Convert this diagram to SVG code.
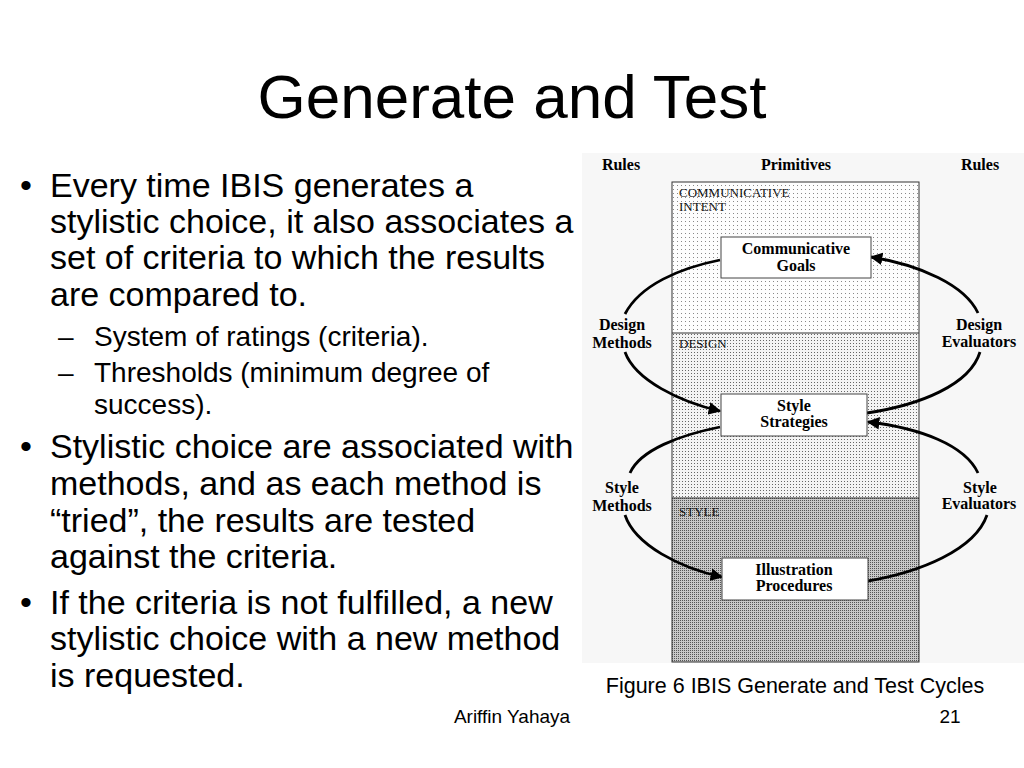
<svg xmlns="http://www.w3.org/2000/svg" width="1024" height="768" viewBox="0 0 1024 768">
<defs>
<style>
.ttl{font-family:"Liberation Sans",Arial,sans-serif;font-size:62px;fill:#000}
.b1{font-family:"Liberation Sans",Arial,sans-serif;font-size:34px;fill:#000}
.b2{font-family:"Liberation Sans",Arial,sans-serif;font-size:28px;fill:#000}
.ft{font-family:"Liberation Sans",Arial,sans-serif;font-size:19px;fill:#000}
.cap{font-family:"Liberation Sans",Arial,sans-serif;font-size:21.5px;fill:#000}
.lb{font-family:"Liberation Serif","Times New Roman",serif;font-size:16px;font-weight:bold;fill:#000;text-anchor:middle}
.sec{font-family:"Liberation Serif","Times New Roman",serif;font-size:13px;fill:#111}
.box{fill:#fff;stroke:#444;stroke-width:1}
.arc{fill:none;stroke:#000;stroke-width:2.8}
</style>
<pattern id="p1" width="4" height="4" patternUnits="userSpaceOnUse">
<rect width="4" height="4" fill="#fdfdfd"/>
<rect x="1" y="1" width="1" height="1" fill="#888"/>
</pattern>
<pattern id="p2" width="3" height="3" patternUnits="userSpaceOnUse">
<rect width="3" height="3" fill="#f4f4f4"/>
<rect x="1" y="1" width="1" height="1" fill="#666"/>
</pattern>
<pattern id="p3" width="2" height="2" patternUnits="userSpaceOnUse">
<rect width="2" height="2" fill="#c8c8c8"/>
<rect x="0" y="0" width="1" height="1" fill="#555"/>
</pattern>
<marker id="ah" viewBox="0 0 10 10" refX="9" refY="5" markerWidth="4.5" markerHeight="4.5" orient="auto" markerUnits="strokeWidth">
<path d="M0,0 L10,5 L0,10 z" fill="#000"/>
</marker>
</defs>
<rect width="1024" height="768" fill="#fff"/>
<text class="ttl" x="512" y="118" text-anchor="middle">Generate and Test</text>
<g id="bullets">
<text class="b1" x="20" y="197">•</text>
<text class="b1" x="50" y="197">Every time IBIS generates a</text>
<text class="b1" x="50" y="233">stylistic choice, it also associates a</text>
<text class="b1" x="50" y="269">set of criteria to which the results</text>
<text class="b1" x="50" y="306">are compared to.</text>
<text class="b2" x="58" y="346">–</text>
<text class="b2" x="94" y="346">System of ratings (criteria).</text>
<text class="b2" x="58" y="382">–</text>
<text class="b2" x="94" y="382">Thresholds (minimum degree of</text>
<text class="b2" x="94" y="414">success).</text>
<text class="b1" x="20" y="458">•</text>
<text class="b1" x="50" y="458">Stylistic choice are associated with</text>
<text class="b1" x="50" y="495">methods, and as each method is</text>
<text class="b1" x="50" y="532">“tried”, the results are tested</text>
<text class="b1" x="50" y="568">against the criteria.</text>
<text class="b1" x="20" y="614">•</text>
<text class="b1" x="50" y="614">If the criteria is not fulfilled, a new</text>
<text class="b1" x="50" y="650">stylistic choice with a new method</text>
<text class="b1" x="50" y="687">is requested.</text>
</g>
<rect x="582" y="153" width="442" height="510" fill="#f7f7f7"/>
<g id="column">
<rect x="672" y="182" width="247" height="151" fill="url(#p1)"/>
<rect x="672" y="333" width="247" height="165" fill="url(#p2)"/>
<rect x="672" y="498" width="247" height="164" fill="url(#p3)"/>
<rect x="672" y="182" width="247" height="480" fill="none" stroke="#333" stroke-width="1"/>
<line x1="672" y1="333" x2="919" y2="333" stroke="#333" stroke-width="1"/>
<line x1="672" y1="498" x2="919" y2="498" stroke="#333" stroke-width="1"/>
<text class="sec" x="679" y="197">COMMUNICATIVE</text>
<text class="sec" x="679" y="211">INTENT</text>
<text class="sec" x="679" y="348">DESIGN</text>
<text class="sec" x="679" y="516">STYLE</text>
</g>
<g id="headers">
<text class="lb" x="621" y="170">Rules</text>
<text class="lb" x="796" y="170">Primitives</text>
<text class="lb" x="980" y="170">Rules</text>
</g>
<g id="connectors">
<path class="arc" d="M625,314 C640,285 680,268 720,260"/>
<path class="arc" d="M978,313 C965,285 920,265 871,257" marker-end="url(#ah)"/>
<path class="arc" d="M625,352 C635,380 680,402 720,411" marker-end="url(#ah)"/>
<path class="arc" d="M980,352 C970,385 920,405 867,413"/>
<path class="arc" d="M630,473 C640,450 680,435 720,427"/>
<path class="arc" d="M978,473 C965,445 920,428 868,422" marker-end="url(#ah)"/>
<path class="arc" d="M625,515 C635,545 680,568 722,577" marker-end="url(#ah)"/>
<path class="arc" d="M987,515 C975,550 920,572 868,581"/>
</g>
<g id="communicative-goals">
<rect class="box" x="721" y="237" width="150" height="41"/>
<text class="lb" x="796" y="254">Communicative</text>
<text class="lb" x="796" y="271">Goals</text>
</g>
<g id="style-strategies">
<rect class="box" x="721" y="394" width="146" height="42"/>
<text class="lb" x="794" y="411">Style</text>
<text class="lb" x="794" y="427">Strategies</text>
</g>
<g id="illustration-procedures">
<rect class="box" x="722" y="558" width="146" height="42"/>
<text class="lb" x="794" y="575">Illustration</text>
<text class="lb" x="794" y="591">Procedures</text>
</g>
<g id="design-methods">
<text class="lb" x="622" y="330">Design</text>
<text class="lb" x="622" y="348">Methods</text>
</g>
<g id="design-evaluators">
<text class="lb" x="979" y="330">Design</text>
<text class="lb" x="979" y="347">Evaluators</text>
</g>
<g id="style-methods">
<text class="lb" x="622" y="493">Style</text>
<text class="lb" x="622" y="511">Methods</text>
</g>
<g id="style-evaluators">
<text class="lb" x="980" y="493">Style</text>
<text class="lb" x="979" y="509">Evaluators</text>
</g>
<text class="cap" x="795" y="693" text-anchor="middle">Figure 6 IBIS Generate and Test Cycles</text>
<text class="ft" x="512" y="723" text-anchor="middle">Ariffin Yahaya</text>
<text class="ft" x="950" y="723" text-anchor="middle">21</text>
</svg>
